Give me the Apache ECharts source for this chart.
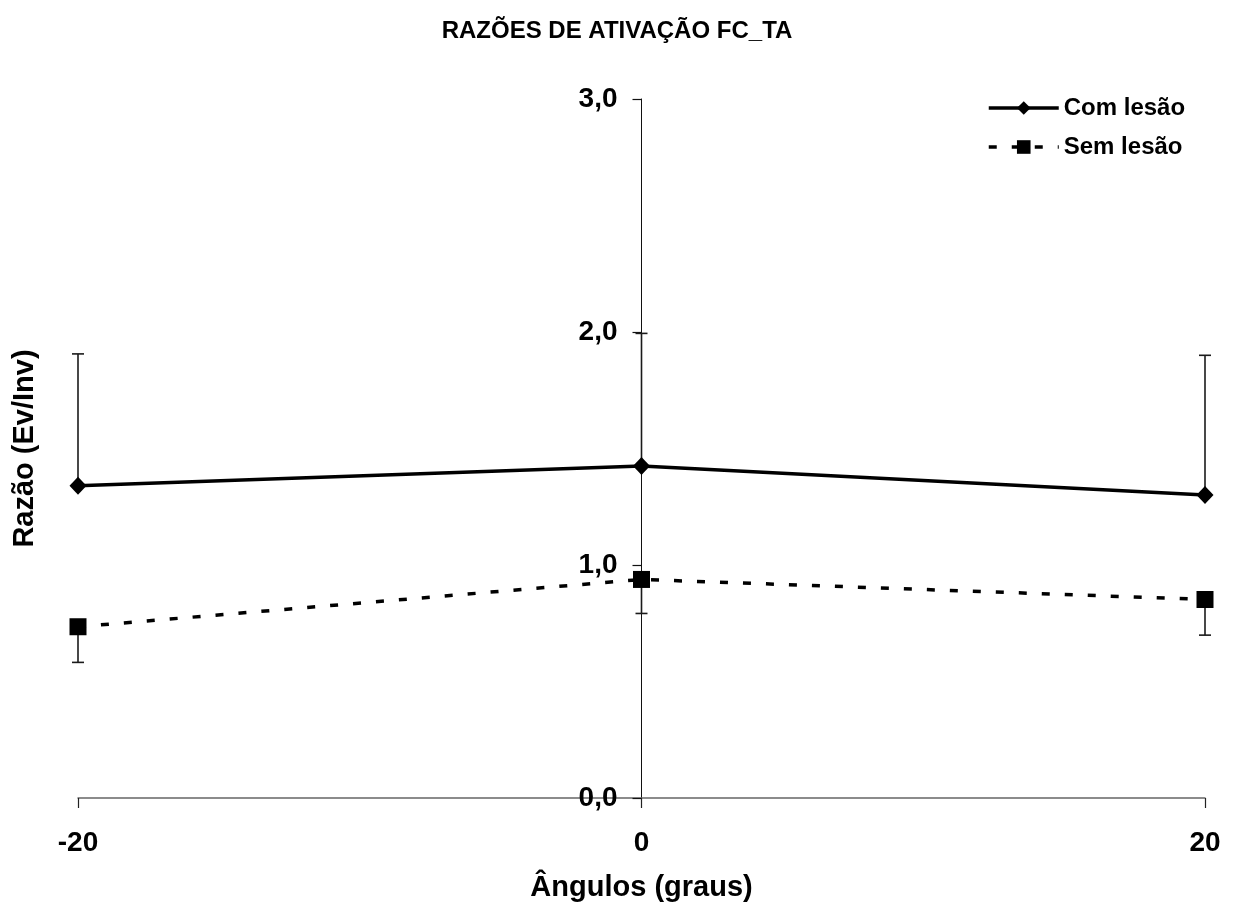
<!DOCTYPE html>
<html>
<head>
<meta charset="utf-8">
<title>Razões de ativação FC_TA</title>
<script src="https://cdn.jsdelivr.net/npm/echarts@6/dist/echarts.min.js"></script>
<style>
  html, body { margin: 0; padding: 0; background: #fff; }
  #chart { width: 1234px; height: 909px; }
</style>
</head>
<body>
<div id="chart"></div>
<script>
// Ângulos (graus)
const angles = [-20, 0, 20];
// Razão média (Ev/Inv) por grupo
const comLesao = [1.34, 1.425, 1.30];
const semLesao = [0.735, 0.938, 0.852];
// Desvio-padrão: barras para cima (com lesão) e para baixo (sem lesão)
const comLesaoSD = [0.566, 0.569, 0.60];
const semLesaoSD = [0.153, 0.146, 0.153];
const yTicks = { min: 0, max: 3, interval: 1 };
const xTicks = { min: -20, max: 20, interval: 20 };

const FONT = '"Liberation Sans", Arial, sans-serif';
const GRID = { left: 78, right: 29, top: 99, bottom: 111 };
const CHART_W = 1234;

function pairs(xs, ys) { return xs.map((x, i) => [x, ys[i]]); }

// horizontal distance from the grid's left edge to x = 0, so the value axis crosses there
const plotW = CHART_W - GRID.left - GRID.right;
const zeroShift = plotW * (0 - xTicks.min) / (xTicks.max - xTicks.min);

// error bar from mean to mean + dir*sd with a short cap
function errorBarSeries(name, means, sds, dir) {
  return {
    type: 'custom',
    name: name + ' DP',
    z: 1,
    silent: true,
    data: angles.map((x, i) => [x, means[i], means[i] + dir * sds[i]]),
    renderItem: function (params, api) {
      const p0 = api.coord([api.value(0), api.value(1)]);
      const p1 = api.coord([api.value(0), api.value(2)]);
      const cap = 6;
      const style = { stroke: '#1a1a1a', lineWidth: 1.6 };
      return {
        type: 'group',
        children: [
          { type: 'line', shape: { x1: p0[0], y1: p0[1], x2: p1[0], y2: p1[1] }, style: style },
          { type: 'line', shape: { x1: p1[0] - cap, y1: p1[1], x2: p1[0] + cap, y2: p1[1] }, style: style }
        ]
      };
    }
  };
}

const chart = echarts.init(document.getElementById('chart'), null, { renderer: 'canvas' });

chart.setOption({
  backgroundColor: '#ffffff',
  animation: false,
  title: {
    text: 'RAZÕES DE ATIVAÇÃO FC_TA',
    left: 'center',
    top: 14,
    textStyle: { fontFamily: FONT, fontWeight: 'bold', fontSize: 24, color: '#000' }
  },
  legend: {
    left: 987,
    top: 96,
    orient: 'vertical',
    padding: 0,
    itemGap: 15,
    itemWidth: 70,
    itemHeight: 17,
    lineStyle: { width: 3.5 },
    data: ['Com lesão', 'Sem lesão'],
    textStyle: { fontFamily: FONT, fontWeight: 'bold', fontSize: 24, color: '#000', padding: [0, 0, 0, 0] }
  },
  grid: Object.assign({ outerBoundsMode: 'none', containLabel: false }, GRID),
  xAxis: {
    type: 'value',
    min: xTicks.min,
    max: xTicks.max,
    interval: xTicks.interval,
    name: 'Ângulos (graus)',
    nameLocation: 'middle',
    nameGap: 75,
    nameTextStyle: { fontFamily: FONT, fontWeight: 'bold', fontSize: 29, color: '#000' },
    axisLine: { onZero: false, lineStyle: { color: '#666', width: 1.5 } },
    axisTick: { show: true, length: 10, lineStyle: { color: '#222', width: 1.2 } },
    axisLabel: {
      margin: 31,
      fontFamily: FONT, fontWeight: 'bold', fontSize: 28, color: '#000',
      formatter: v => String(v)
    },
    splitLine: { show: false }
  },
  yAxis: {
    type: 'value',
    min: yTicks.min,
    max: yTicks.max,
    interval: yTicks.interval,
    position: 'left',
    offset: -zeroShift,
    name: 'Razão (Ev/Inv)',
    nameLocation: 'middle',
    nameGap: GRID.left + zeroShift - 39,
    nameRotate: 90,
    nameTextStyle: { fontFamily: FONT, fontWeight: 'bold', fontSize: 29, color: '#000' },
    axisLine: { show: true, onZero: false, lineStyle: { color: '#111', width: 1 } },
    axisTick: { show: true, length: 9, lineStyle: { color: '#111', width: 1.2 } },
    axisLabel: {
      margin: 24,
      fontFamily: FONT, fontWeight: 'bold', fontSize: 28, color: '#000',
      formatter: v => v.toFixed(1).replace('.', ',')
    },
    splitLine: { show: false }
  },
  series: [
    errorBarSeries('Com lesão', comLesao, comLesaoSD, 1),
    errorBarSeries('Sem lesão', semLesao, semLesaoSD, -1),
    {
      name: 'Com lesão',
      type: 'line',
      z: 3,
      data: pairs(angles, comLesao),
      symbol: 'diamond',
      symbolSize: [17, 18],
      itemStyle: { color: '#000' },
      lineStyle: { color: '#000', width: 3.5, type: 'solid' }
    },
    {
      name: 'Sem lesão',
      type: 'line',
      z: 3,
      data: pairs(angles, semLesao),
      symbol: 'rect',
      symbolSize: 17,
      itemStyle: { color: '#000' },
      lineStyle: { color: '#000', width: 3.5, type: [8, 15] }
    }
  ]
});
</script>
</body>
</html>
